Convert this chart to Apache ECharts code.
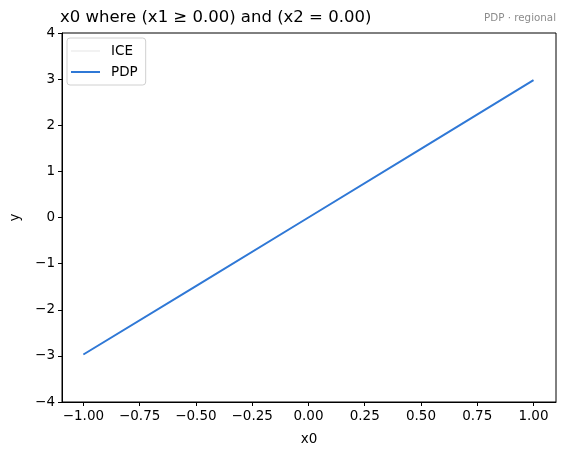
<!DOCTYPE html>
<html>
<head>
<meta charset="utf-8">
<script src="https://cdn.jsdelivr.net/npm/echarts@6/dist/echarts.min.js"></script>
<style>html,body{margin:0;padding:0;background:#fff}#c{width:565px;height:455px}</style>
</head>
<body>
<div id="c"></div>
<script>
const xValues = [-1.0, -0.5, 0.0, 0.5, 1.0];
const iceValues = [-2.97, -1.49, 0.0, 1.49, 2.98];
const pdpValues = [-2.97, -1.49, 0.0, 1.49, 2.98];
const xTicks = [-1.0, -0.75, -0.5, -0.25, 0.0, 0.25, 0.5, 0.75, 1.0];
const titleText = 'x0 where (x1 \u2265 0.00) and (x2 = 0.00)';
const subText = 'PDP \u00b7 regional';

const FONT = 'DejaVu Sans';
const minus = s => String(s).replace('-', '\u2212');
const pair = (xs, ys) => xs.map((x, i) => [x, ys[i]]);

const chart = echarts.init(document.getElementById('c'), null, {renderer: 'canvas'});
chart.setOption({
  animation: false,
  backgroundColor: '#fff',
  title: [
    {text: titleText, left: 60, top: 9, padding: 0,
     textStyle: {fontFamily: FONT, fontSize: 16.5, fontWeight: 'normal', color: '#000'}},
    {text: subText, right: 9, top: 13, padding: 0,
     textStyle: {fontFamily: FONT, fontSize: 10.3, fontWeight: 'normal', color: '#8c8c8c'}}
  ],
  legend: {
    orient: 'vertical', left: 67, top: 38,
    padding: [6, 8, 6, 4],
    itemWidth: 29, itemHeight: 14, itemGap: 7,
    symbolKeepAspect: true,
    backgroundColor: 'rgba(255,255,255,0.8)',
    borderColor: '#d0d0d0', borderWidth: 1, borderRadius: 3,
    textStyle: {fontFamily: FONT, fontSize: 13.5, color: '#000', padding: [0, 0, 0, 6]},
    data: [
      {name: 'ICE', icon: 'path://M0 0h29v0.8h-29z', itemStyle: {color: '#dedede'}},
      {name: 'PDP', icon: 'path://M0 0h29v2h-29z', itemStyle: {color: '#2f78d6'}}
    ]
  },
  grid: {left: 60, right: 9, top: 33, bottom: 53, show: true, borderColor: '#000', borderWidth: 1, containLabel: false},
  xAxis: {
    type: 'value', min: -1.095, max: 1.1,
    name: 'x0', nameLocation: 'middle', nameGap: 30,
    nameTextStyle: {fontFamily: FONT, fontSize: 13.5, color: '#000'},
    axisLine: {show: true, onZero: false, lineStyle: {color: '#000', width: 1}},
    axisTick: {show: true, inside: false, length: 4, lineStyle: {color: '#000'}, customValues: xTicks},
    axisLabel: {fontFamily: FONT, fontSize: 13.5, color: '#000', margin: 7, customValues: xTicks,
      formatter: v => minus(v.toFixed(2))},
    splitLine: {show: false}
  },
  yAxis: {
    type: 'value', min: -4, max: 4, interval: 1,
    name: 'y', nameLocation: 'middle', nameGap: 40, nameRotate: 90,
    nameTextStyle: {fontFamily: FONT, fontSize: 13.5, color: '#000'},
    axisLine: {show: true, onZero: false, lineStyle: {color: '#000', width: 1}},
    axisTick: {show: true, inside: false, length: 4, lineStyle: {color: '#000'}},
    axisLabel: {fontFamily: FONT, fontSize: 13.5, color: '#000', margin: 7, formatter: v => minus(v)},
    splitLine: {show: false}
  },
  series: [
    {name: 'ICE', type: 'line', symbol: 'none', data: pair(xValues, iceValues),
     lineStyle: {color: '#d9d9d9', width: 0.8}, itemStyle: {color: '#d9d9d9'}},
    {name: 'PDP', type: 'line', symbol: 'none', data: pair(xValues, pdpValues),
     lineStyle: {color: '#2f78d6', width: 2}, itemStyle: {color: '#2f78d6'}}
  ]
});
</script>
</body>
</html>
